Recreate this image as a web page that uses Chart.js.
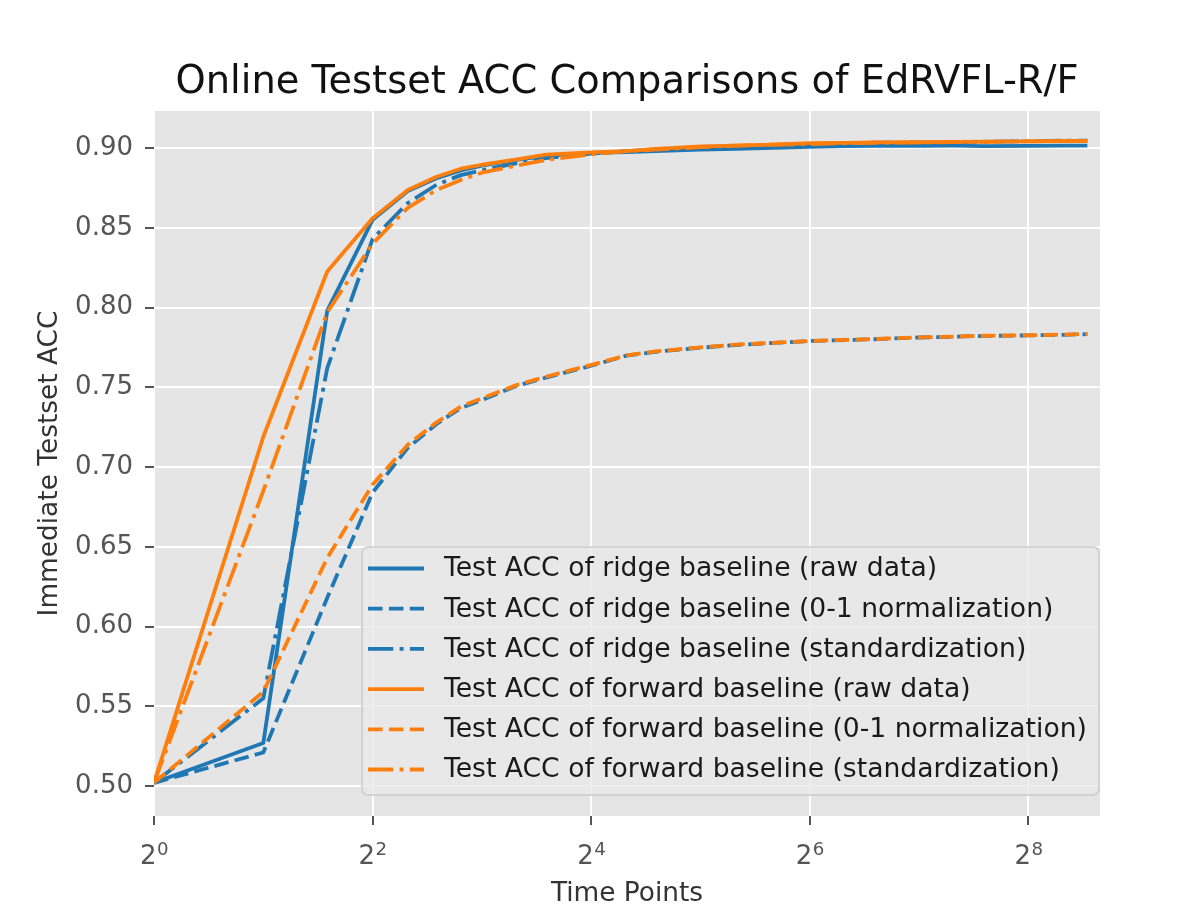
<!DOCTYPE html>
<html>
<head>
<meta charset="utf-8">
<script src="https://cdn.jsdelivr.net/npm/chart.js@4.4.0/dist/chart.umd.min.js"></script>
<style>
  html, body { margin: 0; padding: 0; background: #fff; }
</style>
</head>
<body>
<canvas id="myChart" width="1196" height="917"></canvas>
<script>
// time points (x, log2 axis) and the six accuracy curves
var timePoints = [1, 2, 3, 4, 5, 6, 7, 8, 10, 12, 16, 20, 24, 32, 40, 48, 64, 80, 96, 128, 160, 192, 256, 320, 372];

var ridgeRaw  = [0.502, 0.527, 0.798, 0.855, 0.873, 0.881, 0.886, 0.889, 0.8925, 0.895, 0.897, 0.8975, 0.898, 0.899, 0.8995, 0.900, 0.9008, 0.9012, 0.9013, 0.9014, 0.9015, 0.9012, 0.9013, 0.9015, 0.9015];
var ridgeNorm = [0.502, 0.521, 0.618, 0.684, 0.712, 0.727, 0.737, 0.742, 0.751, 0.756, 0.7635, 0.7698, 0.7722, 0.7748, 0.7765, 0.7775, 0.779, 0.7796, 0.7801, 0.7812, 0.7817, 0.7822, 0.7825, 0.7829, 0.7833];
var ridgeStd  = [0.502, 0.555, 0.762, 0.843, 0.8655, 0.877, 0.883, 0.886, 0.8905, 0.8937, 0.8965, 0.898, 0.899, 0.9003, 0.901, 0.9017, 0.9025, 0.903, 0.9033, 0.9035, 0.9036, 0.9039, 0.9043, 0.9046, 0.9046];
var fwdRaw    = [0.502, 0.719, 0.8226, 0.8559, 0.8737, 0.882, 0.887, 0.8895, 0.8928, 0.8958, 0.8972, 0.898, 0.8995, 0.901, 0.9015, 0.902, 0.903, 0.9032, 0.9035, 0.9036, 0.9038, 0.904, 0.9042, 0.9044, 0.9043];
var fwdNorm   = [0.502, 0.559, 0.643, 0.689, 0.714, 0.728, 0.738, 0.743, 0.7515, 0.7566, 0.764, 0.770, 0.7725, 0.775, 0.7767, 0.7776, 0.779, 0.7797, 0.7802, 0.7813, 0.7818, 0.7823, 0.7826, 0.783, 0.7834];
var fwdStd    = [0.502, 0.685, 0.797, 0.840, 0.8625, 0.8737, 0.880, 0.8845, 0.889, 0.8925, 0.896, 0.898, 0.899, 0.9005, 0.9015, 0.902, 0.9025, 0.903, 0.9033, 0.9035, 0.9037, 0.9038, 0.9042, 0.9045, 0.9045];

var seriesLabels = [
  'Test ACC of ridge baseline (raw data)',
  'Test ACC of ridge baseline (0-1 normalization)',
  'Test ACC of ridge baseline (standardization)',
  'Test ACC of forward baseline (raw data)',
  'Test ACC of forward baseline (0-1 normalization)',
  'Test ACC of forward baseline (standardization)'
];

var chartTitle = 'Online Testset ACC Comparisons of EdRVFL-R/F';
var xTickValues = [1, 4, 16, 64, 256];
var xTickExponents = ['0', '2', '4', '6', '8'];
var yTickValues = [0.50, 0.55, 0.60, 0.65, 0.70, 0.75, 0.80, 0.85, 0.90];

var BLUE = '#1f77b4';
var ORANGE = '#ff7f0e';
var DASHED = [14.6, 6.3];
var DASHDOT = [25.3, 6.3, 4, 6.3];
var FONT = "'DejaVu Sans', sans-serif";

var allSeries = [ridgeRaw, ridgeNorm, ridgeStd, fwdRaw, fwdNorm, fwdStd];
var seriesColors = [BLUE, BLUE, BLUE, ORANGE, ORANGE, ORANGE];
var seriesDash = [[], DASHED, DASHDOT, [], DASHED, DASHDOT];

var datasets = allSeries.map(function (vals, i) {
  return {
    label: seriesLabels[i],
    data: vals.map(function (v, j) { return { x: timePoints[j], y: v }; }),
    borderColor: seriesColors[i],
    borderWidth: 3.8,
    borderDash: seriesDash[i],
    borderJoinStyle: 'round',
    pointRadius: 0,
    tension: 0,
    fill: false,
    order: 6 - i
  };
});

// grey panel behind the lines (ggplot look)
const panelBg = {
  id: 'panelBg',
  beforeDraw: function (chart) {
    var c = chart.ctx, a = chart.chartArea;
    c.save();
    c.fillStyle = '#ffffff';
    c.fillRect(0, 0, chart.width, chart.height);
    c.fillStyle = '#e5e5e5';
    c.fillRect(a.left, a.top, a.right - a.left, a.bottom - a.top);
    c.restore();
  }
};

// matplotlib style legend box inside the plot, lower right
const boxLegend = {
  id: 'boxLegend',
  afterDatasetsDraw: function (chart) {
    var c = chart.ctx;
    var bx = 362, by = 547, bw = 737, bh = 248, r = 6;
    c.save();
    c.beginPath();
    c.moveTo(bx + r, by);
    c.arcTo(bx + bw, by, bx + bw, by + bh, r);
    c.arcTo(bx + bw, by + bh, bx, by + bh, r);
    c.arcTo(bx, by + bh, bx, by, r);
    c.arcTo(bx, by, bx + bw, by, r);
    c.closePath();
    c.fillStyle = 'rgba(232,232,232,0.8)';
    c.fill();
    c.strokeStyle = 'rgba(204,204,204,0.8)';
    c.lineWidth = 2;
    c.stroke();

    c.font = '26.6px ' + FONT;
    c.textBaseline = 'middle';
    c.textAlign = 'left';
    for (var i = 0; i < seriesLabels.length; i++) {
      var y = 568.5 + i * 40.2;
      c.beginPath();
      c.setLineDash(seriesDash[i]);
      c.lineCap = 'butt';
      c.strokeStyle = seriesColors[i];
      c.lineWidth = 3.8;
      c.moveTo(368, y);
      c.lineTo(424, y);
      c.stroke();
      c.setLineDash([]);
      c.fillStyle = '#1a1a1a';
      c.fillText(seriesLabels[i], 444, y + 1);
    }
    c.restore();
  }
};

// title centred over the plot panel, and 2^n tick labels with raised exponents
const textLayer = {
  id: 'textLayer',
  afterDraw: function (chart) {
    var c = chart.ctx, a = chart.chartArea, xs = chart.scales.x;
    c.save();
    c.fillStyle = '#111';
    c.font = '38.4px ' + FONT;
    c.textAlign = 'center';
    c.textBaseline = 'alphabetic';
    c.fillText(chartTitle, (a.left + a.right) / 2, 93);

    c.textAlign = 'left';
    c.fillStyle = '#555';
    for (var i = 0; i < xTickValues.length; i++) {
      var px = xs.getPixelForValue(xTickValues[i]);
      c.font = '26px ' + FONT;
      var w1 = c.measureText('2').width;
      c.font = '18.2px ' + FONT;
      var w2 = c.measureText(xTickExponents[i]).width;
      var x0 = px - (w1 + w2) / 2;
      c.font = '26px ' + FONT;
      c.fillText('2', x0, 864);
      c.font = '18.2px ' + FONT;
      c.fillText(xTickExponents[i], x0 + w1 + 0.5, 855);
    }
    c.restore();
  }
};

let myChart = new Chart(document.getElementById('myChart').getContext('2d'), {
  type: 'line',
  data: { datasets: datasets },
  plugins: [panelBg, boxLegend, textLayer],
  options: {
    responsive: false,
    animation: false,
    devicePixelRatio: 1,
    layout: { padding: { left: 0, right: 96, top: 111, bottom: 0 } },
    plugins: {
      legend: { display: false },
      tooltip: { enabled: false },
      title: { display: false }
    },
    scales: {
      x: {
        type: 'logarithmic',
        min: 1,
        max: 403,
        afterBuildTicks: function (s) {
          s.ticks = xTickValues.map(function (v) { return { value: v }; });
        },
        afterFit: function (s) { s.height = 101; },
        ticks: { display: false, autoSkip: false, maxRotation: 0 },
        grid: { color: '#ffffff', lineWidth: 2, tickColor: '#555', tickLength: 9, tickWidth: 2 },
        border: { display: false },
        title: {
          display: true,
          text: 'Time Points',
          color: '#333',
          font: { family: FONT, size: 26.4 },
          padding: { top: 0, bottom: 7 }
        }
      },
      y: {
        type: 'linear',
        min: 0.4812,
        max: 0.9232,
        afterBuildTicks: function (s) {
          s.ticks = yTickValues.map(function (v) { return { value: v }; });
        },
        afterFit: function (s) { s.width = 154; },
        ticks: {
          color: '#555',
          padding: 12,
          font: { family: FONT, size: 26 },
          callback: function (v) { return Number(v).toFixed(2); }
        },
        grid: { color: '#ffffff', lineWidth: 2, tickColor: '#555', tickLength: 9, tickWidth: 2 },
        border: { display: false },
        title: {
          display: true,
          text: 'Immediate Testset ACC',
          color: '#333',
          font: { family: FONT, size: 26.4 },
          padding: { top: 34, bottom: 0 }
        }
      }
    }
  }
});
</script>
</body>
</html>
